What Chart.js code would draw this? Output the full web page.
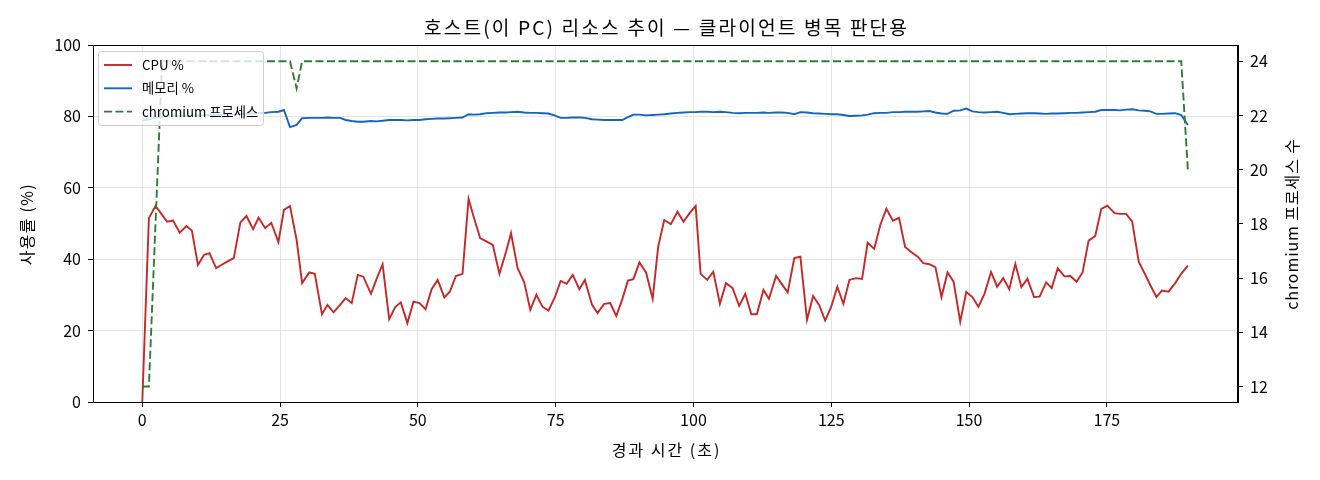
<!DOCTYPE html>
<html><head><meta charset="utf-8">
<script src="https://cdn.jsdelivr.net/npm/chart.js@4/dist/chart.umd.min.js"></script>
<style>html,body{margin:0;padding:0;background:#fff;}canvas{display:block;}</style>
</head><body>
<canvas id="c" width="1320" height="480"></canvas>
<script>
const times = [0,1.2,2.4,3.6,4.5,5.6,6.8,8.0,9.0,10.1,11.2,12.2,13.4,14.5,15.5,16.6,17.8,18.9,20.1,21.1,
22.3,23.4,24.7,25.7,26.8,28.0,29.0,30.3,31.3,32.6,33.6,34.7,35.9,36.9,38.0,39.1,40.1,41.5,42.5,43.6,
44.8,45.9,46.9,48.1,49.2,50.3,51.4,52.5,53.6,54.8,55.8,56.9,58.1,59.2,60.2,61.3,62.5,63.6,64.8,66.0,
66.9,68.1,69.3,70.4,71.5,72.6,73.7,74.9,75.9,77.0,78.1,79.3,80.3,81.6,82.6,83.8,84.9,86.0,87.1,88.1,
89.1,90.2,91.4,92.6,93.6,94.7,95.9,97.1,98.2,99.3,100.4,101.3,102.5,103.6,104.8,105.9,107.1,108.3,109.4,110.5,
111.5,112.7,113.7,115.0,116.0,117.1,118.3,119.4,120.6,121.7,122.8,123.9,125.0,126.1,127.2,128.3,129.5,130.6,131.6,132.8,
133.9,135.0,136.2,137.3,138.4,139.5,140.7,141.7,142.8,143.9,145.0,146.1,147.2,148.4,149.5,150.6,151.7,152.8,154.0,155.1,
156.2,157.3,158.4,159.5,160.6,161.8,162.8,164.0,165.0,166.1,167.3,168.4,169.5,170.6,171.7,172.9,174.0,175.1,176.4,177.4,
178.5,179.6,180.8,181.9,182.9,184.0,185.0,186.2,187.4,188.5,189.7];

const cpu = [0,51.5,54.9,52.4,50.5,50.8,47.4,49.3,48.0,38.4,41.2,41.7,37.5,38.5,39.4,40.3,50.3,52.1,48.4,51.6,
48.7,50.2,44.8,53.8,54.9,45.4,33.3,36.3,35.9,24.6,27.2,25.1,27.2,29.1,27.7,35.6,35.1,30.3,34.4,38.6,
23.2,26.6,27.9,22.1,28.1,27.7,26.0,31.6,34.2,29.3,30.9,35.3,35.9,56.9,51.5,45.9,44.9,44.0,35.9,42.1,
47.3,37.5,33.5,25.8,30.0,26.7,25.6,29.5,33.9,33.1,35.6,31.6,34.2,27.2,24.9,27.5,27.7,24.1,28.8,34.0,
34.4,39.1,36.3,28.9,43.5,51.0,49.8,53.3,50.5,52.9,54.9,35.9,34.2,36.5,27.5,33.3,31.9,26.9,30.3,24.6,
24.6,31.4,28.9,35.3,33.1,30.7,40.3,40.7,23.0,29.7,27.2,22.8,26.7,32.3,27.5,34.2,34.7,34.5,44.6,42.9,
49.6,54.1,50.8,51.6,43.4,42.0,40.7,38.9,38.6,37.8,29.4,36.3,33.7,22.5,30.8,29.4,26.7,30.3,36.4,32.3,
34.7,31.6,38.7,32.2,34.5,29.4,29.5,33.5,31.9,37.5,35.2,35.3,33.7,36.3,45.2,46.5,54.1,55.0,52.9,52.7,
52.7,50.5,39.2,35.9,32.7,29.4,31.2,30.9,33.3,35.9,38.2];

const mem = [78.8,79.2,79.7,79.9,80.0,80.0,80.1,80.1,80.2,80.2,80.3,80.4,80.4,80.5,80.5,80.6,80.7,80.7,80.8,80.9,
81.0,81.2,81.3,81.8,77.0,77.6,79.5,79.6,79.6,79.6,79.7,79.6,79.6,79.0,78.7,78.5,78.5,78.7,78.6,78.8,
79.0,79.0,79.0,78.9,79.0,79.0,79.2,79.3,79.4,79.4,79.5,79.6,79.7,80.6,80.5,80.6,80.9,81.0,81.1,81.1,
81.2,81.3,81.1,81.0,81.0,80.9,80.8,80.2,79.6,79.6,79.7,79.7,79.6,79.2,79.1,79.0,79.0,79.0,79.0,79.8,
80.5,80.5,80.3,80.4,80.5,80.6,80.8,81.0,81.1,81.2,81.2,81.3,81.3,81.2,81.3,81.2,81.0,80.9,81.0,81.0,
81.0,81.1,81.0,81.1,81.1,81.0,80.6,81.2,81.1,80.9,80.8,80.7,80.6,80.6,80.4,80.1,80.2,80.3,80.5,80.9,
81.0,81.0,81.2,81.2,81.3,81.3,81.3,81.4,81.5,81.1,80.8,80.7,81.6,81.7,82.2,81.4,81.2,81.1,81.2,81.3,
81.0,80.6,80.7,80.8,80.9,80.9,80.8,80.7,80.8,80.8,80.9,81.0,81.0,81.1,81.2,81.3,81.8,81.8,81.8,81.7,
81.9,82.0,81.7,81.6,81.4,80.7,80.7,80.8,80.9,80.4,77.6];

const procs = [12,12,18,24,24,24,24,24,24,24,
24,24,24,24,24,24,24,24,24,24,
24,24,24,24,24,23,24,24,24,24,
24,24,24,24,24,24,24,24,24,24,
24,24,24,24,24,24,24,24,24,24,
24,24,24,24,24,24,24,24,24,24,
24,24,24,24,24,24,24,24,24,24,
24,24,24,24,24,24,24,24,24,24,
24,24,24,24,24,24,24,24,24,24,
24,24,24,24,24,24,24,24,24,24,
24,24,24,24,24,24,24,24,24,24,
24,24,24,24,24,24,24,24,24,24,
24,24,24,24,24,24,24,24,24,24,
24,24,24,24,24,24,24,24,24,24,
24,24,24,24,24,24,24,24,24,24,
24,24,24,24,24,24,24,24,24,24,
24,24,24,24,24,24,24,24,24,24,
20];

const xTicks = [0,25,50,75,100,125,150,175];
const leftTicks = [0,20,40,60,80,100];
const rightTicks = [12,14,16,18,20,22,24];

const seriesLabels = ['CPU %','메모리 %','chromium 프로세스'];
const chartTitle = '호스트(이 PC) 리소스 추이 — 클라이언트 병목 판단용';
const xTitle = '경과 시간 (초)';
const leftTitle = '사용률 (%)';
const rightTitle = 'chromium 프로세스 수';

const FONT = "'Noto Sans CJK KR','Noto Sans',sans-serif";
const toPts = arr => times.map((t,i)=>({x:t,y:arr[i]}));

function spacedText(ctx, text, x, y, size, spacing, rot){
  ctx.save();
  ctx.font = size+'px '+FONT;
  ctx.fillStyle = '#000';
  ctx.textAlign = 'center';
  ctx.textBaseline = 'middle';
  try { ctx.letterSpacing = spacing+'px'; } catch(e) {}
  ctx.translate(x + (rot ? 0 : spacing/2), y + (rot ? spacing/2 : 0));
  if (rot) ctx.rotate(rot);
  ctx.fillText(text, 0, 0);
  ctx.restore();
}

const framePlugin = {
  id:'frame',
  afterDatasetsDraw(chart){
    const {ctx} = chart;
    ctx.save();
    const bx=98.5, by=51.5, bw=165, bh=74, r=3;
    ctx.beginPath();
    ctx.moveTo(bx+r,by); ctx.lineTo(bx+bw-r,by); ctx.quadraticCurveTo(bx+bw,by,bx+bw,by+r);
    ctx.lineTo(bx+bw,by+bh-r); ctx.quadraticCurveTo(bx+bw,by+bh,bx+bw-r,by+bh);
    ctx.lineTo(bx+r,by+bh); ctx.quadraticCurveTo(bx,by+bh,bx,by+bh-r);
    ctx.lineTo(bx,by+r); ctx.quadraticCurveTo(bx,by,bx+r,by); ctx.closePath();
    ctx.fillStyle='rgba(255,255,255,0.8)'; ctx.fill();
    ctx.strokeStyle='#d0d0d0'; ctx.lineWidth=1; ctx.stroke();
    chart.data.datasets.forEach((ds,i)=>{
      const y = 65 + i*23.3;
      ctx.beginPath();
      ctx.setLineDash(ds.borderDash||[]);
      ctx.strokeStyle=ds.borderColor; ctx.lineWidth=ds.borderWidth;
      ctx.moveTo(104,y); ctx.lineTo(132,y); ctx.stroke();
      ctx.setLineDash([]);
      ctx.fillStyle='#000'; ctx.font='13.3px '+FONT; ctx.textBaseline='middle'; ctx.textAlign='left';
      ctx.fillText(ds.label,142,y);
    });
    ctx.restore();
  },
  afterDraw(chart){
    const {ctx, chartArea:a} = chart;
    ctx.save();
    ctx.strokeStyle='#000'; ctx.lineWidth=1;
    ctx.strokeRect(Math.round(a.left)+0.5, Math.round(a.top)+0.5, Math.round(a.right-a.left)-1, Math.round(a.bottom-a.top));
    ctx.restore();
    const cx = (a.left+a.right)/2, cy = (a.top+a.bottom)/2;
    spacedText(ctx, chartTitle, cx, 28, 19.2, 2.1, 0);
    spacedText(ctx, xTitle, cx, 450, 16, 2, 0);
    spacedText(ctx, leftTitle, 27, cy, 16, 1.3, -Math.PI/2);
    spacedText(ctx, rightTitle, 1292, cy, 16, 0.9, -Math.PI/2);
  }
};

new Chart(document.getElementById('c').getContext('2d'), {
  type:'line',
  data:{datasets:[
    {label:seriesLabels[0], data:toPts(cpu), borderColor:'#c62828', borderWidth:1.9, pointRadius:0, yAxisID:'y', order:3, tension:0},
    {label:seriesLabels[1], data:toPts(mem), borderColor:'#1565c0', borderWidth:1.9, pointRadius:0, yAxisID:'y', order:2, tension:0},
    {label:seriesLabels[2], data:toPts(procs), borderColor:'#2e7d32', borderWidth:1.9, borderDash:[8,3.5], pointRadius:0, yAxisID:'y2', order:1, tension:0}
  ]},
  options:{
    responsive:false, animation:false, devicePixelRatio:1,
    layout:{padding:{top:45,left:0,right:0,bottom:0}},
    plugins:{ legend:{display:false}, tooltip:{enabled:false}, title:{display:false} },
    scales:{
      x:{type:'linear', min:-8.94, max:198.8,
        afterBuildTicks:s=>{s.ticks = xTicks.map(v=>({value:v}));},
        afterFit:s=>{s.height=78;},
        grid:{color:'#e6e6e6', lineWidth:1, tickLength:5, tickColor:'#000'},
        border:{display:true,color:'#000',width:1},
        ticks:{color:'#000', font:{family:FONT,size:16}, padding:3, maxRotation:0, autoSkip:false}
      },
      y:{type:'linear', position:'left', min:0, max:100,
        afterBuildTicks:s=>{s.ticks = leftTicks.map(v=>({value:v}));},
        afterFit:s=>{s.width=93;},
        grid:{color:'#e6e6e6', lineWidth:1, tickLength:5, tickColor:'#000'},
        border:{display:true,color:'#000',width:1},
        ticks:{color:'#000', font:{family:FONT,size:16}, padding:7}
      },
      y2:{type:'linear', position:'right', min:11.43, max:24.6,
        afterBuildTicks:s=>{s.ticks = rightTicks.map(v=>({value:v}));},
        afterFit:s=>{s.width=82;},
        grid:{drawOnChartArea:false, tickLength:5, tickColor:'#000', color:'#e6e6e6'},
        border:{display:true,color:'#000',width:1},
        ticks:{color:'#000', font:{family:FONT,size:16}, padding:7}
      }
    }
  },
  plugins:[framePlugin]
});
</script>
</body></html>
